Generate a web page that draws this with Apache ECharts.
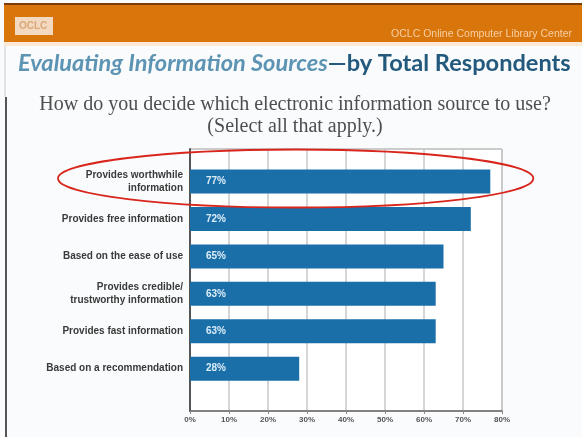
<!DOCTYPE html>
<html>
<head>
<meta charset="utf-8">
<script src="https://cdn.jsdelivr.net/npm/echarts@6/dist/echarts.min.js"></script>
<style>
  html, body { margin: 0; padding: 0; background: #f9fbfc; }
  #chart { width: 582px; height: 437px; }
</style>
</head>
<body>
<div id="chart"></div>
<script>
// Survey answers, top to bottom
const categories = [
  'Provides worthwhile\ninformation',
  'Provides free information',
  'Based on the ease of use',
  'Provides credible/\ntrustworthy information',
  'Provides fast information',
  'Based on a recommendation'
];
const percentValues = [77, 72, 65, 63, 63, 28];
const axisTicks = [0, 10, 20, 30, 40, 50, 60, 70, 80];

const titleMain = 'Evaluating Information Sources';
const titleSub = '—by Total Respondents';
const questionLines = ['How do you decide which electronic information source to use?', '(Select all that apply.)'];
const orgName = 'OCLC Online Computer Library Center';

const BAR_BLUE = '#1a6fa9';

const chart = echarts.init(document.getElementById('chart'));

const option = {
  backgroundColor: '#f9fbfc',
  animation: false,
  title: [
    {
      text: '{a|' + titleMain + '}{b|' + titleSub + '}',
      left: 13, top: 46,
      textStyle: {
        rich: {
          a: { fontFamily: 'Lato', fontStyle: 'italic', fontWeight: 'bold', fontSize: 23.6, color: '#5d93b3' },
          b: { fontFamily: 'Lato', fontWeight: 'bold', fontSize: 23.6, color: '#22597c' }
        }
      }
    },
    {
      text: orgName,
      right: 5, top: 24,
      textStyle: { fontFamily: 'Liberation Sans', fontSize: 10.5, fontWeight: 'normal', color: '#f6cfa6' }
    }
  ],
  grid: [
    // bars
    { left: 190, right: 80, top: 162.8, bottom: 49.6, containLabel: false },
    // frame, gridlines and tick labels
    { left: 190, right: 80, top: 149, bottom: 26, show: true, borderColor: '#9a9a9a', borderWidth: 1, backgroundColor: '#ffffff' }
  ],
  xAxis: [
    { gridIndex: 0, type: 'value', min: 0, max: 80, interval: 10, show: false },
    {
      gridIndex: 1, type: 'value', min: axisTicks[0], max: axisTicks[axisTicks.length - 1], interval: 10,
      axisLine: { show: true, lineStyle: { color: '#6a6a6a', width: 1.5 } },
      axisTick: { show: true, length: 3, lineStyle: { color: '#8a8a8a' } },
      splitLine: { show: true, lineStyle: { color: '#c8c8c8', width: 1.5 } },
      axisLabel: {
        margin: 5,
        formatter: v => v + '%',
        fontFamily: 'Liberation Sans', fontSize: 8, fontWeight: 'bold', color: '#555'
      }
    }
  ],
  yAxis: [
    {
      gridIndex: 0, type: 'category', data: categories, inverse: true,
      axisLine: { show: false }, axisTick: { show: false }, splitLine: { show: false },
      axisLabel: {
        margin: 7, align: 'right',
        fontFamily: 'Liberation Sans', fontSize: 10, fontWeight: 'bold', color: '#3a3a3a', lineHeight: 13
      }
    },
    {
      gridIndex: 1, type: 'value', min: 0, max: 1,
      axisLine: { show: true, lineStyle: { color: '#555', width: 2 } },
      axisTick: { show: false }, axisLabel: { show: false }, splitLine: { show: false }
    }
  ],
  series: [
    {
      type: 'bar',
      xAxisIndex: 0, yAxisIndex: 0,
      data: percentValues,
      barWidth: 24,
      itemStyle: { color: BAR_BLUE },
      label: {
        show: true, position: 'insideLeft', distance: 16,
        formatter: p => p.value + '%',
        fontFamily: 'Liberation Sans', fontSize: 10, fontWeight: 'bold', color: '#dcedf8'
      },
      z: 3
    }
  ]
};

chart.setOption(option);

// Header band, logo, question text, page frame, and the highlight ring around the top answer
function drawDecor() {
  const top = chart.convertToPixel({ gridIndex: 0 }, [0, 0]);
  const end = chart.convertToPixel({ gridIndex: 0 }, [percentValues[0], 0]);
  const cy = top[1] - 3;
  const left = 58, right = end[0] + 43;
  chart.setOption({
    graphic: [
      { type: 'rect', shape: { x: 4, y: 3, width: 578, height: 2 }, style: { fill: '#7d3b05' }, z: 1 },
      { type: 'rect', shape: { x: 4, y: 5, width: 578, height: 37 }, style: { fill: '#d8760b' }, z: 1 },
      { type: 'rect', shape: { x: 4, y: 42, width: 578, height: 4 }, style: { fill: '#fbe9d6' }, z: 1 },
      { type: 'rect', shape: { x: 15, y: 17, width: 38, height: 18 }, style: { fill: '#f2d9c0' }, z: 2 },
      { type: 'text', x: 19, y: 21, style: { text: 'OCLC', fill: '#dca878', font: 'bold 10px Liberation Sans' }, z: 3 },
      {
        type: 'text', x: 295, y: 95,
        style: {
          text: questionLines[0], fill: '#4e4e4e', align: 'center',
          font: '20px Liberation Serif'
        }, z: 3
      },
      {
        type: 'text', x: 295, y: 117,
        style: {
          text: questionLines[1], fill: '#4e4e4e', align: 'center',
          font: '20px Liberation Serif'
        }, z: 3
      },
      { type: 'line', shape: { x1: 5, y1: 46, x2: 5, y2: 97 }, style: { stroke: '#c9c9c9', lineWidth: 1 }, z: 1 },
      { type: 'line', shape: { x1: 6, y1: 97, x2: 6, y2: 437 }, style: { stroke: '#1e1e1e', lineWidth: 1.5 }, z: 1 },
      {
        type: 'ellipse',
        shape: { cx: (left + right) / 2, cy: cy, rx: (right - left) / 2, ry: 29 },
        style: { fill: 'none', stroke: '#d8261c', lineWidth: 1.8 },
        z: 10
      }
    ]
  });
}
drawDecor();
</script>
</body>
</html>
